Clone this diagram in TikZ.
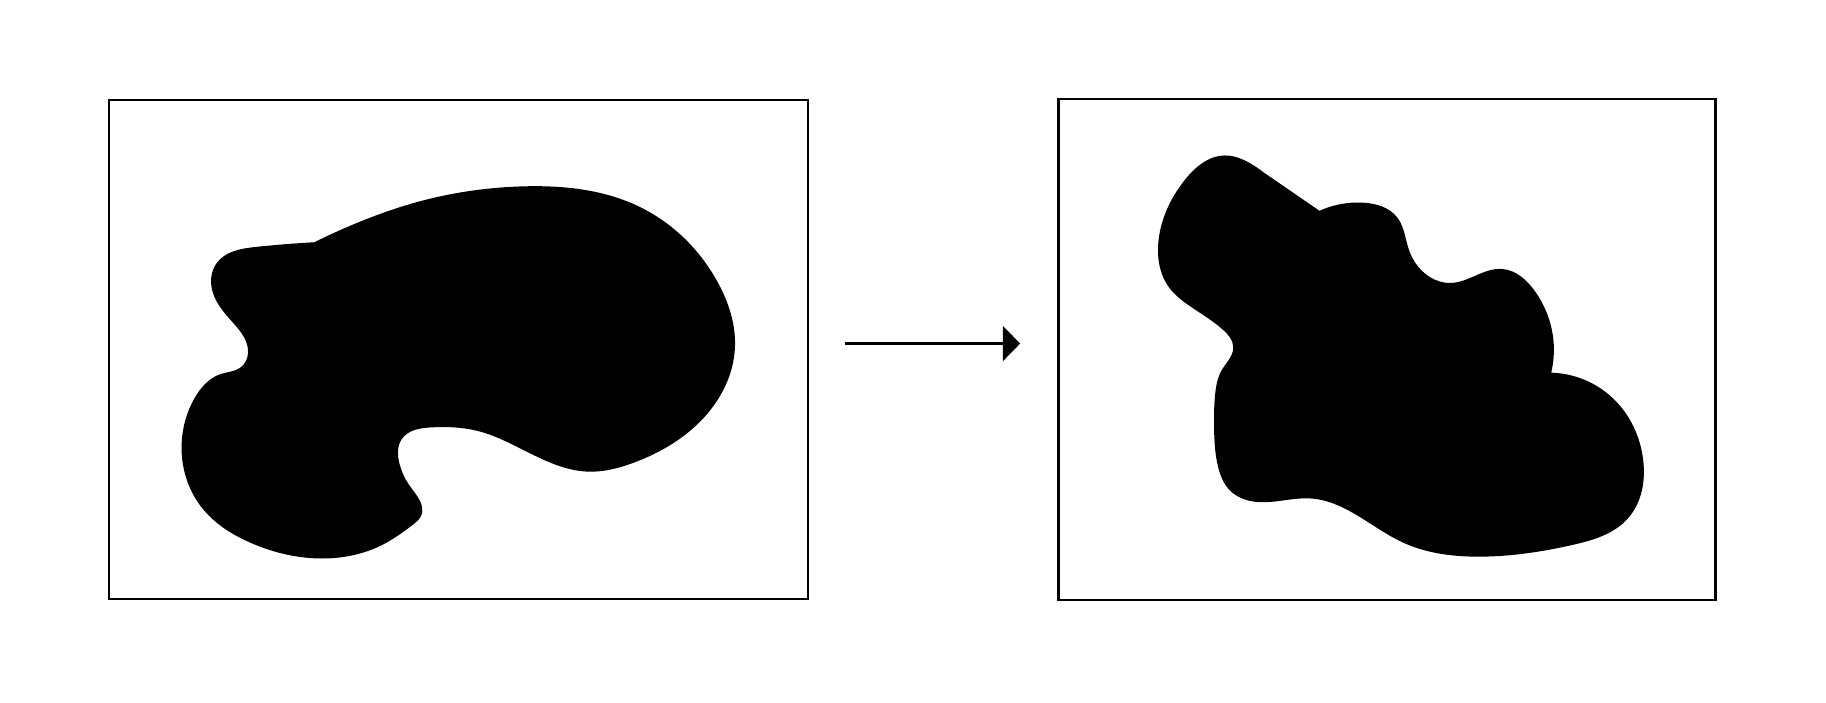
\documentclass[tikz,border=0pt]{standalone}
\usetikzlibrary{arrows.meta,hobby}
\begin{document}
\begin{tikzpicture}[x=0.011645cm,y=-0.011645cm,
  frame/.style={draw=black,line width=0.6pt,inner sep=0pt,fill=none},
  blob/.style={fill=black},
  flow/.style={line width=0.85pt,-{Triangle[length=1.73mm,width=3.47mm]}}]
\useasboundingbox (0,0) rectangle (1568,603);
\node[frame,minimum width=6.987cm,minimum height=4.984cm] (L) at (394,300) {};
\node[frame,minimum width=6.568cm,minimum height=5.007cm] (R) at (1191,300) {};
\coordinate (a0) at (725.5,295);
\coordinate (a1) at (876,295);
\draw[flow] (a0) -- (a1);
% left blob
\fill[blob] plot[hobby] coordinates {
(270,208) (310,190) (360,173) (450,160) (550,178) (615,240) (631,300) (605,358) (545,397) (505,405) (465,394) (410,370) (370,367) (345,377) (343,398) (351,416) (361,431) (362,442) (354,451) (330,467) (272,479.5) (215,466) (175,438) (156,380) (167,342) (190,321) (206,316) (213,303) (200,277) (183,252) (186,226) (220,212) (270,208)} -- cycle;
% right blob
\fill[blob] plot[hobby] coordinates {
(1133,181) (1170,174) (1200,187) (1210,215) (1228,238) (1245,243) (1290,231) (1318,250) (1334,293) (1332,320)}
 -- plot[hobby] coordinates {
(1332,320) (1385,342) (1411,395) (1398,445) (1350,468) (1270,478) (1205,466) (1125,428) (1079,431) (1056,421) (1046,401) (1042.5,366) (1043.5,338) (1049,318) (1059,298) (1050,283) (1022,263) (1004,247) (995,205) (1017,155) (1052,133.5) (1074,140.5) (1085,148)}
 -- (1133,181) -- cycle;
\end{tikzpicture}
\end{document}
